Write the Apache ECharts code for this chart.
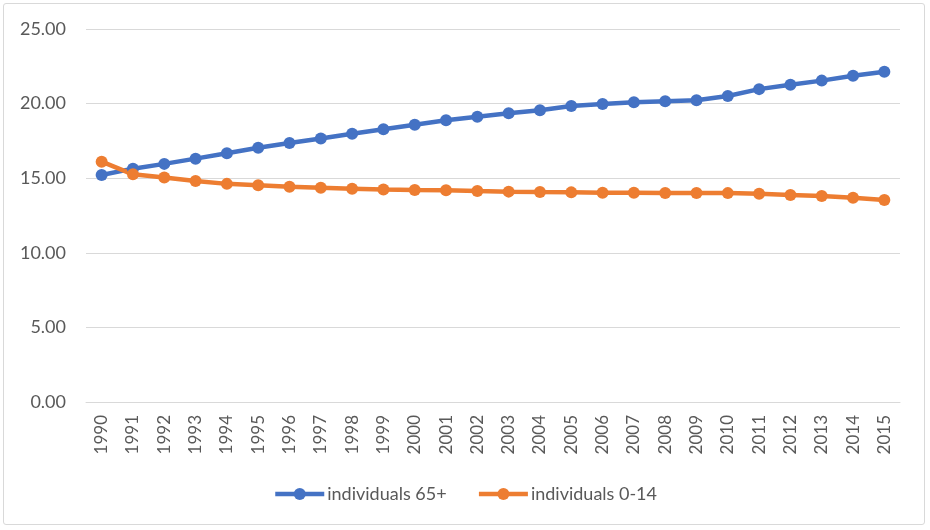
<!DOCTYPE html>
<html><head><meta charset="utf-8">
<script src="https://cdn.jsdelivr.net/npm/echarts@6/dist/echarts.min.js"></script>
<style>html,body{margin:0;padding:0;background:#fff}#wrap{position:absolute;left:3px;top:3px;width:922px;height:522px;border:1px solid #d9d9d9;border-radius:3px;box-sizing:border-box}#c{position:absolute;left:0;top:0;width:930px;height:530px}</style>
</head><body><div id="wrap"></div><div id="c"></div>
<script>
const years = ['1990','1991','1992','1993','1994','1995','1996','1997','1998','1999','2000','2001','2002','2003','2004','2005','2006','2007','2008','2009','2010','2011','2012','2013','2014','2015'];
const seniors = [15.21,15.64,15.96,16.31,16.67,17.04,17.36,17.66,17.98,18.28,18.58,18.88,19.12,19.35,19.56,19.84,19.97,20.09,20.16,20.23,20.51,20.97,21.27,21.54,21.86,22.14];
const children = [16.11,15.26,15.05,14.81,14.62,14.52,14.43,14.36,14.30,14.24,14.21,14.19,14.14,14.10,14.07,14.05,14.03,14.02,14.01,14.01,14.00,13.95,13.88,13.81,13.69,13.54];
const yTicks = {min:0, max:25, interval:5};
const font = 'Lato, "Open Sans", sans-serif';
const chart = echarts.init(document.getElementById('c'));
chart.setOption({
  animation:false,
  grid:{left:86,right:30,top:29,bottom:128},
  legend:{top:480,left:'center',itemWidth:49,itemHeight:15,itemGap:30,
    lineStyle:{width:4.5},
    textStyle:{fontFamily:font,fontSize:18,color:'#595959',padding:[0,0,0,-2]},
    data:['individuals 65+','individuals 0-14']},
  xAxis:{type:'category',data:years,boundaryGap:true,
    axisLine:{lineStyle:{color:'#d9d9d9',width:1}},axisTick:{show:false},
    axisLabel:{rotate:90,color:'#595959',fontFamily:font,fontSize:17,margin:13,interval:0}},
  yAxis:{type:'value',min:yTicks.min,max:yTicks.max,interval:yTicks.interval,
    axisLine:{show:false},axisTick:{show:false},
    splitLine:{lineStyle:{color:'#d9d9d9',width:1}},
    axisLabel:{color:'#595959',fontFamily:font,fontSize:18,margin:20,formatter:v=>v.toFixed(2)}},
  series:[
    {name:'individuals 65+',type:'line',data:seniors,symbol:'circle',symbolSize:12,
     lineStyle:{color:'#4472C4',width:4.5},itemStyle:{color:'#4472C4'}},
    {name:'individuals 0-14',type:'line',data:children,symbol:'circle',symbolSize:12,
     lineStyle:{color:'#ED7D31',width:4.5},itemStyle:{color:'#ED7D31'}}
  ]
});
</script></body></html>
